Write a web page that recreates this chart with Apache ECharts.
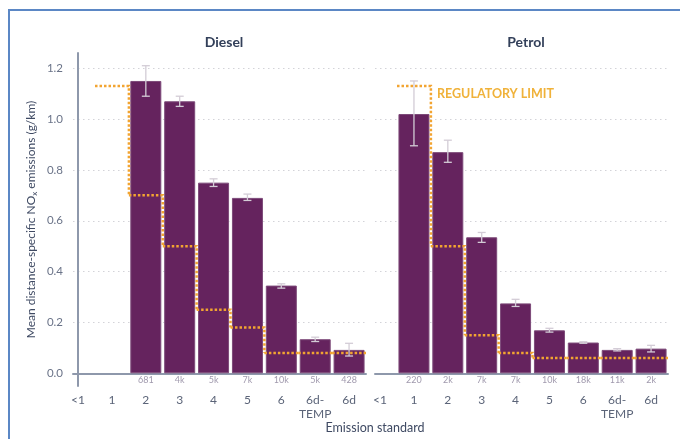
<!DOCTYPE html>
<html>
<head>
<meta charset="utf-8">
<script src="https://cdn.jsdelivr.net/npm/echarts@6/dist/echarts.min.js"></script>
<style>html,body{margin:0;padding:0;background:#fff}#chart{width:680px;height:439px}</style>
</head>
<body>
<div id="chart"></div>
<script>
var standards=['<1','1','2','3','4','5','6','6d-\nTEMP','6d']
var yTicks=[0,0.2,0.4,0.6,0.8,1.0,1.2]

// diesel
var dieselMean=[null,null,1.15,1.07,0.75,0.69,0.345,0.134,0.092]
var dieselLow=[null,null,1.09,1.05,0.735,0.68,0.335,0.125,0.068]
var dieselHigh=[null,null,1.21,1.09,0.765,0.705,0.352,0.142,0.118]
var dieselCount=['','','681','4k','5k','7k','10k','5k','428']
var dieselLimit=[null,1.13,0.70,0.50,0.25,0.18,0.08,0.08,0.08]

// petrol
var petrolMean=[null,1.02,0.87,0.535,0.275,0.169,0.121,0.092,0.097]
var petrolLow=[null,0.895,0.83,0.515,0.263,0.162,0.118,0.088,0.084]
var petrolHigh=[null,1.15,0.917,0.554,0.291,0.177,0.124,0.097,0.11]
var petrolCount=['','220','2k','7k','7k','10k','18k','11k','2k']
var petrolLimit=[null,1.13,0.50,0.15,0.08,0.06,0.06,0.06,0.06]

var axisCol='#8e98ab'
var txtCol='#5b6478'

function barData(mean){
	var d=[]
	for(var i=0;i<mean.length;i++){
		if(mean[i]!=null) d.push([i,mean[i]])
	}
	return d
}
function errData(low,high){
	var d=[]
	for(var i=0;i<low.length;i++){
		if(low[i]!=null) d.push([i,low[i],high[i]])
	}
	return d
}
function limitData(lim){
	var d=[]
	for(var i=0;i<lim.length;i++){
		if(lim[i]==null) continue
		var nx=(i+1<lim.length&&lim[i+1]!=null)?lim[i+1]:'-'
		d.push([i,lim[i],nx])
	}
	return d
}

function renderErr(params,api){
	var x=api.value(0)
	var lo=api.coord([x,api.value(1)])
	var hi=api.coord([x,api.value(2)])
	var cap=4
	var st={stroke:'#d3ccd6',lineWidth:1.3}
	return {type:'group',children:[
		{type:'line',shape:{x1:lo[0],y1:lo[1],x2:hi[0],y2:hi[1]},style:st},
		{type:'line',shape:{x1:lo[0]-cap,y1:lo[1],x2:lo[0]+cap,y2:lo[1]},style:st},
		{type:'line',shape:{x1:hi[0]-cap,y1:hi[1],x2:hi[0]+cap,y2:hi[1]},style:st}
	]}
}
function renderLimit(params,api){
	var x=api.value(0)
	var c=api.coord([x,api.value(1)])
	var half=api.size([1,0])[0]/2
	var pts=[[c[0]-half,c[1]],[c[0]+half,c[1]]]
	var nx=api.value(2)
	if(!isNaN(nx)){
		pts.push([c[0]+half,api.coord([x+1,nx])[1]])
	}
	return {type:'polyline',shape:{points:pts},style:{stroke:'#f2a431',lineWidth:2.5,lineDash:[2.5,2],fill:null}}
}

function xAx(gi){
	return {
		type:'value',gridIndex:gi,min:-0.15,max:8.5,
		axisLine:{show:true,lineStyle:{color:axisCol,width:2}},
		axisTick:{show:false},splitLine:{show:false},
		axisLabel:{customValues:[0,1,2,3,4,5,6,7,8],formatter:function(v){return standards[Math.round(v)]},
			color:txtCol,fontSize:12,fontFamily:'Lato',margin:7,lineHeight:14}
	}
}
function yAx(gi,main){
	return {
		type:'value',gridIndex:gi,min:-0.05,max:1.26,
		axisLine:{show:main,lineStyle:{color:axisCol,width:2}},
		axisTick:{show:false,customValues:yTicks},
		axisLabel:{show:main,customValues:yTicks,formatter:function(v){return v.toFixed(1)},color:'#6a7388',fontSize:11.5,fontFamily:'Lato',margin:10},
		splitLine:{show:true,lineStyle:{color:'#d3d3d8',type:[1.5,3.5],width:1}},
		name:main?'Mean distance-specific NO{sub|x} emissions (g/km)':'',
		nameLocation:'middle',nameGap:35,
		nameTextStyle:{color:'#3f4a63',fontSize:12,fontFamily:'Lato',
			rich:{sub:{fontSize:8,color:'#3f4a63',fontFamily:'Lato',padding:[6,0,0,0]}}}
	}
}

function barSeries(gi,mean,counts){
	return {
		type:'bar',xAxisIndex:gi,yAxisIndex:gi,barWidth:31,
		data:barData(mean),
		itemStyle:{color:'#65235e',borderColor:'#7d4a79',borderWidth:1},
		label:{show:true,position:'bottom',distance:2,fontSize:9,fontFamily:'Lato',color:'#a099ad',
			formatter:function(p){return counts[p.data[0]]}}
	}
}

var mychart=echarts.init(document.getElementById('chart'))
var option={
	animation:false,
	title:[
		{text:'Diesel',left:219,top:30,textAlign:'center',textStyle:{color:'#33405a',fontSize:14,fontWeight:'bold',fontFamily:'Lato'}},
		{text:'Petrol',left:521,top:30,textAlign:'center',textStyle:{color:'#33405a',fontSize:14,fontWeight:'bold',fontFamily:'Lato'}},
		{text:'REGULATORY LIMIT',left:432,top:82,textStyle:{color:'#f0b23a',fontSize:12.5,fontWeight:'bold',fontFamily:'Lato'}},
		{text:'Emission standard',left:370,top:416,textAlign:'center',textStyle:{color:'#3f4a63',fontSize:12.5,fontWeight:'normal',fontFamily:'Lato'}}
	],
	graphic:[{type:'rect',shape:{x:9,y:10,width:700,height:500},style:{fill:null,stroke:'#5b87c5',lineWidth:2},silent:true}],
	grid:[
		{left:73,top:53,width:293,height:333},
		{left:375,top:53,width:293,height:333}
	],
	xAxis:[xAx(0),xAx(1)],
	yAxis:[yAx(0,true),yAx(1,false)],
	series:[
		barSeries(0,dieselMean,dieselCount),
		barSeries(1,petrolMean,petrolCount),
		{type:'custom',xAxisIndex:0,yAxisIndex:0,renderItem:renderErr,encode:{x:0,y:[1,2]},data:errData(dieselLow,dieselHigh),z:3},
		{type:'custom',xAxisIndex:1,yAxisIndex:1,renderItem:renderErr,encode:{x:0,y:[1,2]},data:errData(petrolLow,petrolHigh),z:3},
		{type:'custom',xAxisIndex:0,yAxisIndex:0,renderItem:renderLimit,encode:{x:0,y:1},data:limitData(dieselLimit),z:4},
		{type:'custom',xAxisIndex:1,yAxisIndex:1,renderItem:renderLimit,encode:{x:0,y:1},data:limitData(petrolLimit),z:4}
	]
}
mychart.setOption(option)
</script>
</body>
</html>
